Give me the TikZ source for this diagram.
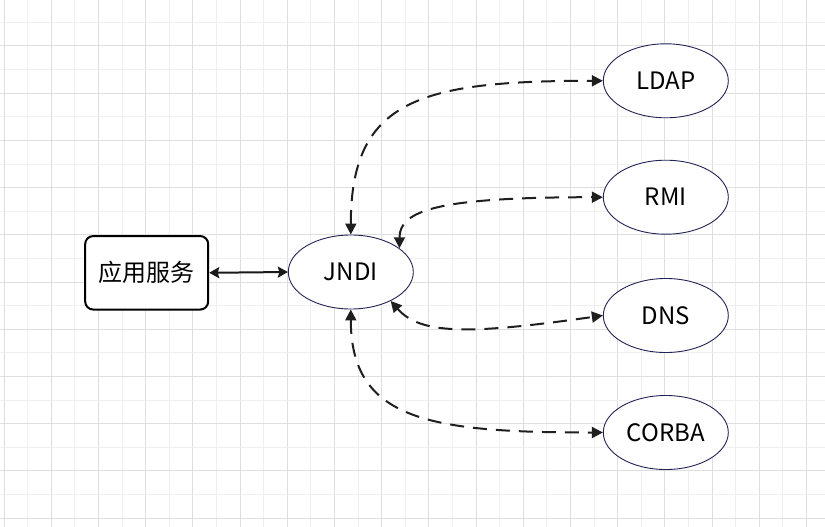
\documentclass[tikz,border=0pt]{standalone}
\usepackage{fontspec}
\setmainfont{Noto Sans CJK SC}
\usetikzlibrary{shapes.geometric,arrows.meta}
\definecolor{gridlight}{HTML}{EFEFEF}
\definecolor{griddark}{HTML}{DEDEDE}
\definecolor{navy}{RGB}{35,35,85}
\tikzset{
  ell/.style={ellipse,draw=navy,line width=0.9pt,fill=white,minimum width=125pt,minimum height=74pt,inner sep=0pt,font=\fontsize{24}{24}\selectfont},
  appbox/.style={rectangle,rounded corners=8pt,draw=black,line width=2pt,fill=white,minimum width=123pt,minimum height=73.5pt,inner sep=0pt,font=\fontsize{24}{24}\selectfont},
  solidlink/.style={line width=2pt,draw=black!90,{Stealth[length=10pt,width=11pt,inset=1.5pt]}-{Stealth[length=10pt,width=11pt,inset=1.5pt]}},
  dashlink/.style={line width=2pt,draw=black!88,dash pattern=on 14pt off 9pt,{Triangle[length=11pt,width=11pt]}-{Triangle[length=11pt,width=11pt]}},
}
\begin{document}
\begin{tikzpicture}[x=1pt,y=-1pt]
\useasboundingbox (0,0) rectangle (825,527);
\fill[white] (0,0) rectangle (825,527);
\foreach \i in {0,...,34}{
  \pgfmathtruncatemacro{\ev}{mod(\i,2)}
  \ifnum\ev=0 \draw[griddark,line width=1pt] ({4+23.6*\i},0) -- ({4+23.6*\i},527);
  \else \draw[gridlight,line width=1pt] ({4+23.6*\i},0) -- ({4+23.6*\i},527); \fi
}
\foreach \i in {1,...,22}{
  \pgfmathtruncatemacro{\ev}{mod(\i,2)}
  \ifnum\ev=0 \draw[griddark,line width=1pt] (0,{-1.2+23.6*\i}) -- (825,{-1.2+23.6*\i});
  \else \draw[gridlight,line width=1pt] (0,{-1.2+23.6*\i}) -- (825,{-1.2+23.6*\i}); \fi
}
\node[appbox] (app) at (146.7,272.8) {应用服务};
\node[ell] (jndi) at (350.8,272) {JNDI};
\node[ell] (ldap) at (665.8,80.8) {LDAP};
\node[ell] (rmi) at (665.8,197.2) {RMI};
\node[ell] (dns) at (665.8,315.5) {DNS};
\node[ell] (corba) at (665.8,432.5) {CORBA};

\draw[solidlink] (app.east) -- (jndi.west);
\draw[dashlink] (jndi.north) .. controls +(0,-135) and +(-183,0) .. (ldap.west);
\draw[dashlink] (jndi.26) .. controls +(0,-38.5) and +(-163,0) .. (rmi.west);
\draw[dashlink] (jndi.-36) .. controls +(30,34) and +(-133,19) .. (dns.west);
\draw[dashlink] (jndi.south) .. controls +(0,111) and +(-173,0) .. (corba.west);
\end{tikzpicture}
\end{document}
